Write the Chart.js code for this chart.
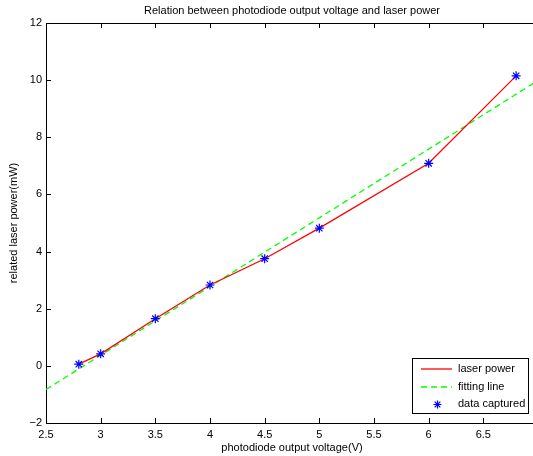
<!DOCTYPE html>
<html>
<head>
<meta charset="utf-8">
<script src="https://cdn.jsdelivr.net/npm/chart.js@4"></script>
<style>
  html, body { margin: 0; padding: 0; background: #fff; overflow: hidden; }
  #wrap { width: 560px; height: 456px; }
</style>
</head>
<body>
<div id="wrap"><canvas id="chart" width="560" height="456"></canvas></div>
<script>
// --- data ---
const voltage = [2.8, 3.0, 3.5, 4.0, 4.5, 5.0, 6.0, 6.8];
const power = [0.06, 0.42, 1.65, 2.83, 3.75, 4.82, 7.09, 10.15];
const fitVoltage = [2.5, 7.0];
const fitPower = [-0.83, 9.99];
const xTicks = [2.5, 3, 3.5, 4, 4.5, 5, 5.5, 6, 6.5, 7];
const yTicks = [-2, 0, 2, 4, 6, 8, 10, 12];
const seriesNames = ['laser power', 'fitting line', 'data captured'];

const FONT = 'Liberation Sans, Arial, Helvetica, sans-serif';
const RED = '#ff0000', GREEN = '#00ff00', BLUE = '#0000ff';
const pts = (xs, ys) => xs.map((x, i) => ({ x, y: ys[i] }));

// title, box, inward ticks and legend like the matlab figure
const matlabFrame = {
  id: 'matlabFrame',
  afterDraw(chart) {
    const { ctx, chartArea: a, scales } = chart;
    const xs = scales.x, ys = scales.y;
    ctx.save();
    ctx.strokeStyle = '#000';
    ctx.lineWidth = 1;
    ctx.beginPath();
    ctx.moveTo(a.left, a.top + 0.5);
    ctx.lineTo(a.right, a.top + 0.5);
    ctx.moveTo(a.right - 0.5, a.top);
    ctx.lineTo(a.right - 0.5, a.bottom);
    xTicks.forEach(v => {
      const px = Math.round(xs.getPixelForValue(v)) + 0.5;
      ctx.moveTo(px, a.bottom); ctx.lineTo(px, a.bottom - 5);
      ctx.moveTo(px, a.top); ctx.lineTo(px, a.top + 5);
    });
    yTicks.forEach(v => {
      const py = Math.round(ys.getPixelForValue(v)) + 0.5;
      ctx.moveTo(a.left, py); ctx.lineTo(a.left + 5, py);
      ctx.moveTo(a.right, py); ctx.lineTo(a.right - 5, py);
    });
    ctx.stroke();

    // title
    ctx.fillStyle = '#000';
    ctx.font = '11px ' + FONT;
    ctx.textAlign = 'center';
    ctx.textBaseline = 'middle';
    ctx.fillText('Relation between photodiode output voltage and laser power', (a.left + a.right) / 2, 11);

    // legend
    const lx = 412, ly = 358, lw = 116, lh = 55;
    ctx.fillStyle = '#fff';
    ctx.fillRect(lx, ly, lw, lh);
    ctx.strokeStyle = '#000';
    ctx.strokeRect(lx + 0.5, ly + 0.5, lw, lh);
    const rowY = [369, 387, 404];
    ctx.textAlign = 'left';
    ctx.lineWidth = 1.3;

    // laser power: solid red
    ctx.strokeStyle = RED;
    ctx.setLineDash([]);
    ctx.beginPath();
    ctx.moveTo(421, rowY[0]); ctx.lineTo(452, rowY[0]);
    ctx.stroke();
    // fitting line: dashed green
    ctx.strokeStyle = GREEN;
    ctx.setLineDash([6, 4]);
    ctx.beginPath();
    ctx.moveTo(421, rowY[1]); ctx.lineTo(452, rowY[1]);
    ctx.stroke();
    ctx.setLineDash([]);
    // data captured: blue asterisk
    ctx.strokeStyle = BLUE;
    ctx.lineWidth = 1.2;
    const cx = 437.5, cy = rowY[2] + 0.5, r = 4;
    ctx.beginPath();
    for (let k = 0; k < 4; k++) {
      const ang = k * Math.PI / 4;
      ctx.moveTo(cx - r * Math.sin(ang), cy - r * Math.cos(ang));
      ctx.lineTo(cx + r * Math.sin(ang), cy + r * Math.cos(ang));
    }
    ctx.stroke();

    ctx.fillStyle = '#000';
    seriesNames.forEach((name, i) => ctx.fillText(name, 458, rowY[i]));
    ctx.restore();
  }
};

new Chart(document.getElementById('chart').getContext('2d'), {
  type: 'scatter',
  data: {
    datasets: [
      {
        label: seriesNames[0],
        data: pts(voltage, power),
        showLine: true,
        borderColor: RED,
        backgroundColor: RED,
        borderWidth: 1.3,
        pointRadius: 0,
        pointHoverRadius: 0,
        order: 1
      },
      {
        label: seriesNames[1],
        data: pts(fitVoltage, fitPower),
        showLine: true,
        borderColor: GREEN,
        backgroundColor: GREEN,
        borderWidth: 1.3,
        borderDash: [6, 4],
        pointRadius: 0,
        pointHoverRadius: 0,
        order: 2
      },
      {
        label: seriesNames[2],
        data: pts(voltage, power),
        showLine: false,
        borderColor: BLUE,
        backgroundColor: BLUE,
        borderWidth: 1.2,
        pointStyle: 'star',
        pointRadius: 4.5,
        order: 0
      }
    ]
  },
  options: {
    responsive: false,
    animation: false,
    devicePixelRatio: 1,
    events: [],
    layout: { padding: { top: 23, right: 22, bottom: 0, left: 0 } },
    plugins: {
      legend: { display: false },
      tooltip: { enabled: false },
      title: { display: false }
    },
    scales: {
      x: {
        type: 'linear',
        min: 2.5,
        max: 7,
        afterBuildTicks: s => { s.ticks = xTicks.map(v => ({ value: v })); },
        afterFit: s => { s.height = 33; },
        grid: { display: false, drawTicks: false },
        border: { display: true, color: '#000', width: 1 },
        ticks: {
          color: '#000',
          font: { family: FONT, size: 11 },
          padding: 5,
          maxRotation: 0,
          autoSkip: false,
          // the 7 label falls outside the cropped figure
          callback: v => (v === 7 ? '' : String(v))
        },
        title: {
          display: true,
          text: 'photodiode output voltage(V)',
          color: '#000',
          font: { family: FONT, size: 11 },
          padding: { top: 0, bottom: 1 }
        }
      },
      y: {
        type: 'linear',
        min: -2,
        max: 12,
        afterBuildTicks: s => { s.ticks = yTicks.map(v => ({ value: v })); },
        afterFit: s => { s.width = 46; },
        grid: { display: false, drawTicks: false },
        border: { display: true, color: '#000', width: 1 },
        ticks: {
          color: '#000',
          font: { family: FONT, size: 11 },
          padding: 4,
          callback: v => String(v).replace('-', '\u2212')
        },
        title: {
          display: true,
          text: 'related laser power(mW)',
          color: '#000',
          font: { family: FONT, size: 11 },
          padding: { top: 7, bottom: 0 }
        }
      }
    }
  },
  plugins: [matlabFrame]
});
</script>
</body>
</html>
